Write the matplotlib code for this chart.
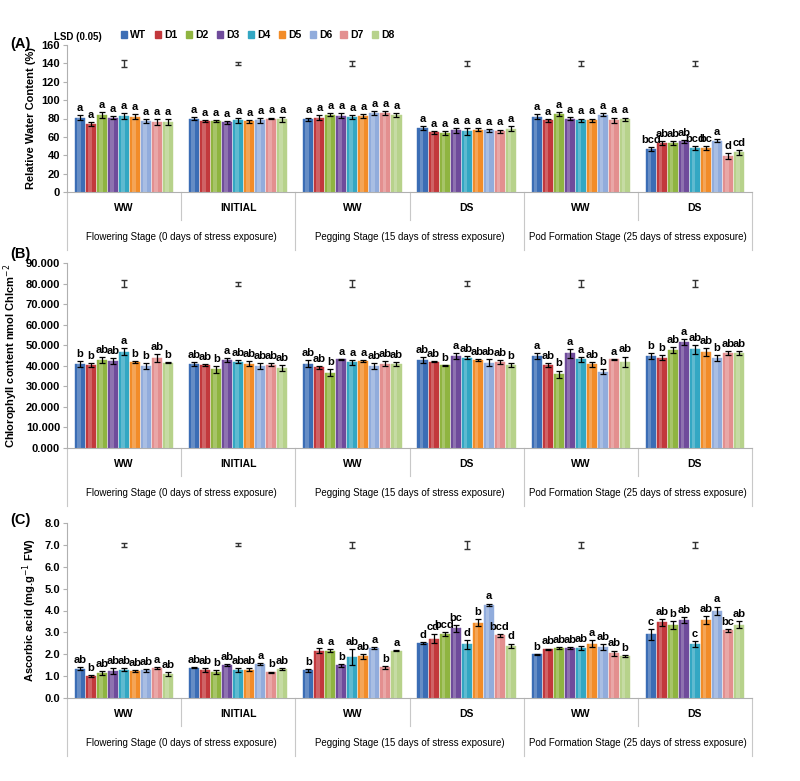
import numpy as np
import matplotlib
matplotlib.use('Agg')
import matplotlib.pyplot as plt
import matplotlib.transforms as mtransforms

plt.rcParams['font.family'] = ['Liberation Sans', 'DejaVu Sans']

genotypes = ['WT', 'D1', 'D2', 'D3', 'D4', 'D5', 'D6', 'D7', 'D8']
colors = ['#3b6db5', '#c2383c', '#8fb440', '#6f4b9b', '#33a7c3', '#f28c28',
          '#91acdc', '#e38f8f', '#b7d28b']
treatments = ['WW', 'INITIAL', 'WW', 'DS', 'WW', 'DS']
stages = ['Flowering Stage (0 days of stress exposure)',
          'Pegging Stage (15 days of stress exposure)',
          'Pod Formation Stage (25 days of stress exposure)']

# (A) relative water content, one row per treatment group
rwc_mean = [[81, 74, 84, 81, 83, 82, 77, 76, 76],
            [80, 77, 77, 76, 78, 77, 78, 80, 79],
            [79, 81, 84, 83, 82, 83, 86, 86, 84],
            [70, 65, 64, 67, 66, 68, 67, 66, 69],
            [82, 78, 85, 80, 78, 78, 84, 78, 79],
            [47, 53, 53, 55, 48, 48, 56, 39, 43]]
rwc_err = [[3, 2, 3, 2, 3, 3, 2, 3, 3],
           [1.5, 1, 1, 1.5, 2.5, 1.5, 2.5, 1, 2.5],
           [2, 2.5, 1.5, 2.5, 2, 2, 2.5, 2, 2],
           [2, 1.5, 2, 2.5, 4, 1.5, 2, 2, 2.5],
           [3, 1.5, 2.5, 2, 2, 2, 1.5, 3, 2],
           [2, 2, 2, 2, 2, 2, 2, 3, 2.5]]
rwc_letters = [['a'] * 9, ['a'] * 9, ['a'] * 9, ['a'] * 9, ['a'] * 9,
               ['bcd', 'ab', 'ab', 'ab', 'bcd', 'bc', 'a', 'd', 'cd']]
rwc_lsd = [3.5, 2, 2.5, 2.5, 2.5, 2.5]

# (B) chlorophyll content
chl_mean = [[41, 40.5, 42.8, 42.4, 46.8, 41.8, 39.8, 43.6, 41.5],
            [41, 40.3, 38.2, 42.8, 42, 41, 40, 40.6, 39],
            [41.1, 39.3, 36.6, 43.1, 41.7, 42.3, 40, 41, 40.8],
            [42.8, 42, 40.2, 44.7, 44, 42.8, 41.5, 41.8, 40.5],
            [44.7, 40.3, 35.9, 46, 43.1, 40.8, 37.1, 43.1, 42],
            [44.7, 44, 47.6, 51.4, 48, 46.7, 43.6, 46.2, 46.2]]
chl_err = [[1.5, 1, 1.5, 1.3, 1.7, 0.6, 1.5, 2, 0.3],
           [1, 0.5, 1.5, 1, 0.7, 1.3, 1.5, 0.8, 1.3],
           [1.8, 0.7, 1.7, 0.2, 1.3, 0.3, 1.5, 1.3, 1],
           [1.3, 0.2, 0.3, 1.3, 0.8, 0.3, 1.8, 0.8, 1],
           [1.5, 1, 1.8, 2, 1.2, 1.2, 1.3, 0.3, 2.5],
           [1.3, 1.3, 1.3, 1.5, 2.3, 2, 1.5, 1, 0.8]]
chl_letters = [['b', 'b', 'ab', 'ab', 'a', 'b', 'b', 'ab', 'b'],
               ['ab', 'ab', 'b', 'a', 'ab', 'ab', 'ab', 'ab', 'ab'],
               ['ab', 'ab', 'b', 'a', 'a', 'a', 'ab', 'ab', 'ab'],
               ['ab', 'ab', 'b', 'a', 'ab', 'ab', 'ab', 'ab', 'b'],
               ['a', 'ab', 'b', 'a', 'a', 'ab', 'b', 'a', 'ab'],
               ['b', 'b', 'ab', 'a', 'ab', 'ab', 'b', 'ab', 'ab']]
chl_lsd = [1.5, 1, 1.5, 1.2, 1.5, 1.5]

# (C) ascorbic acid
asa_mean = [[1.34, 1.02, 1.14, 1.22, 1.29, 1.22, 1.26, 1.38, 1.09],
            [1.38, 1.29, 1.19, 1.50, 1.30, 1.29, 1.55, 1.17, 1.34],
            [1.26, 2.16, 2.17, 1.49, 1.87, 1.90, 2.28, 1.41, 2.16],
            [2.51, 2.72, 2.92, 3.19, 2.46, 3.45, 4.27, 2.86, 2.39],
            [2.00, 2.23, 2.28, 2.28, 2.28, 2.49, 2.33, 2.05, 1.93],
            [2.92, 3.46, 3.34, 3.57, 2.46, 3.56, 3.98, 3.09, 3.36]]
asa_err = [[0.08, 0.04, 0.10, 0.13, 0.06, 0.04, 0.05, 0.04, 0.08],
           [0.03, 0.08, 0.07, 0.05, 0.09, 0.07, 0.05, 0.04, 0.04],
           [0.06, 0.12, 0.07, 0.06, 0.38, 0.11, 0.05, 0.07, 0.03],
           [0.05, 0.20, 0.10, 0.15, 0.20, 0.15, 0.05, 0.07, 0.10],
           [0.02, 0.03, 0.05, 0.05, 0.10, 0.15, 0.13, 0.12, 0.05],
           [0.25, 0.15, 0.18, 0.12, 0.13, 0.18, 0.20, 0.05, 0.15]]
asa_letters = [['ab', 'b', 'ab', 'ab', 'ab', 'ab', 'ab', 'a', 'ab'],
               ['ab', 'ab', 'b', 'ab', 'ab', 'ab', 'a', 'b', 'ab'],
               ['b', 'a', 'a', 'b', 'ab', 'ab', 'a', 'b', 'a'],
               ['d', 'cd', 'bcd', 'bc', 'd', 'b', 'a', 'bcd', 'd'],
               ['b', 'ab', 'ab', 'ab', 'ab', 'a', 'ab', 'ab', 'b'],
               ['c', 'ab', 'b', 'ab', 'c', 'ab', 'a', 'bc', 'ab']]
asa_lsd = [0.1, 0.07, 0.15, 0.2, 0.12, 0.15]

fig = plt.figure(figsize=(8, 7.81), dpi=100)
H = 781.0

slot = 0.0965
width = 0.088
gray = '#b0b0b0'


def panel(bottom_px, top_px, means, errs, letters, lsd, lsd_y, ymax, step,
          fmt, ylabel, label, label_y):
    ax = fig.add_axes([67 / 800, 1 - bottom_px / H, 685 / 800,
                       (bottom_px - top_px) / H])
    for g in range(6):
        for k in range(9):
            x = g + 0.5 + (k - 4) * slot
            m = means[g][k]
            ax.bar(x, m, width=width, color=colors[k], edgecolor=colors[k],
                   linewidth=0.3, zorder=2)
            # light highlight to mimic the cylinder shading
            ax.bar(x - width * 0.12, m, width=width * 0.35, color='white',
                   alpha=0.22, linewidth=0, zorder=3)
            ax.errorbar(x, m, yerr=errs[g][k], fmt='none', ecolor='black',
                        elinewidth=0.9, capsize=2, capthick=0.9, zorder=4)
            ax.annotate(letters[g][k], (x, m + errs[g][k]), xytext=(0, 1.5),
                        textcoords='offset points', ha='center', va='bottom',
                        fontsize=8, fontweight='bold', zorder=5)
        ax.errorbar(g + 0.5, lsd_y, yerr=lsd[g], fmt='none', ecolor='#333333',
                    elinewidth=1, capsize=2.5, capthick=1)
    ax.set_xlim(0, 6)
    ax.set_ylim(0, ymax)
    ticks = np.arange(0, ymax + step / 2, step)
    ax.set_yticks(ticks)
    ax.set_yticklabels([fmt % v for v in ticks], fontsize=8, fontweight='bold')
    ax.set_xticks([])
    for s in ['top', 'right']:
        ax.spines[s].set_visible(False)
    ax.spines['left'].set_color(gray)
    ax.spines['bottom'].set_color(gray)
    ax.tick_params(axis='y', color=gray, length=3, pad=2)
    ax.set_ylabel(ylabel, fontsize=8, fontweight='bold', labelpad=4)
    ax.patch.set_alpha(0)

    # two-level category axis
    tr = mtransforms.blended_transform_factory(ax.transData, fig.transFigure)
    y0 = 1 - bottom_px / H
    for g in range(6):
        ax.text(g + 0.5, y0 - 16 / H, treatments[g], transform=tr,
                ha='center', va='center', fontsize=7.5, fontweight='bold')
    for s in range(3):
        ax.text(2 * s + 1, y0 - 45 / H, stages[s], transform=tr,
                ha='center', va='center', fontsize=7)
    for xb in [1, 3, 5]:
        ax.plot([xb, xb], [y0, y0 - 28 / H], transform=tr, color='#c8c8c8',
                lw=0.8, clip_on=False)
    for xb in [0, 2, 4, 6]:
        ax.plot([xb, xb], [y0, y0 - 58 / H], transform=tr, color='#c8c8c8',
                lw=0.8, clip_on=False)
    fig.text(10 / 800, 1 - label_y / H, label, fontsize=10.5,
             fontweight='bold', va='center')
    return ax


panel(192, 45, rwc_mean, rwc_err, rwc_letters, rwc_lsd, 140, 160, 20, '%d',
      'Relative Water Content (%)', '(A)', 44)
panel(448, 263, chl_mean, chl_err, chl_letters, chl_lsd, 80, 90, 10, '%.3f',
      'Chlorophyll content nmol Chlcm$^{-2}$', '(B)', 254)
panel(698, 523, asa_mean, asa_err, asa_letters, asa_lsd, 7.0, 8, 1, '%.1f',
      'Ascorbic acid (mg.g$^{-1}$ FW)', '(C)', 520)

handles = [plt.Rectangle((0, 0), 1, 1, color=c) for c in colors]
fig.legend(handles, genotypes, loc='center', bbox_to_anchor=(0.322, 1 - 35 / H),
           ncol=9, frameon=False, handlelength=0.6, handleheight=0.6,
           handletextpad=0.3, columnspacing=0.8,
           prop={'weight': 'bold', 'size': 7.5})
fig.text(78 / 800, 1 - 37 / H, 'LSD (0.05)', fontsize=7, fontweight='bold',
         ha='center', va='center')

plt.savefig('out.png', dpi=100)
